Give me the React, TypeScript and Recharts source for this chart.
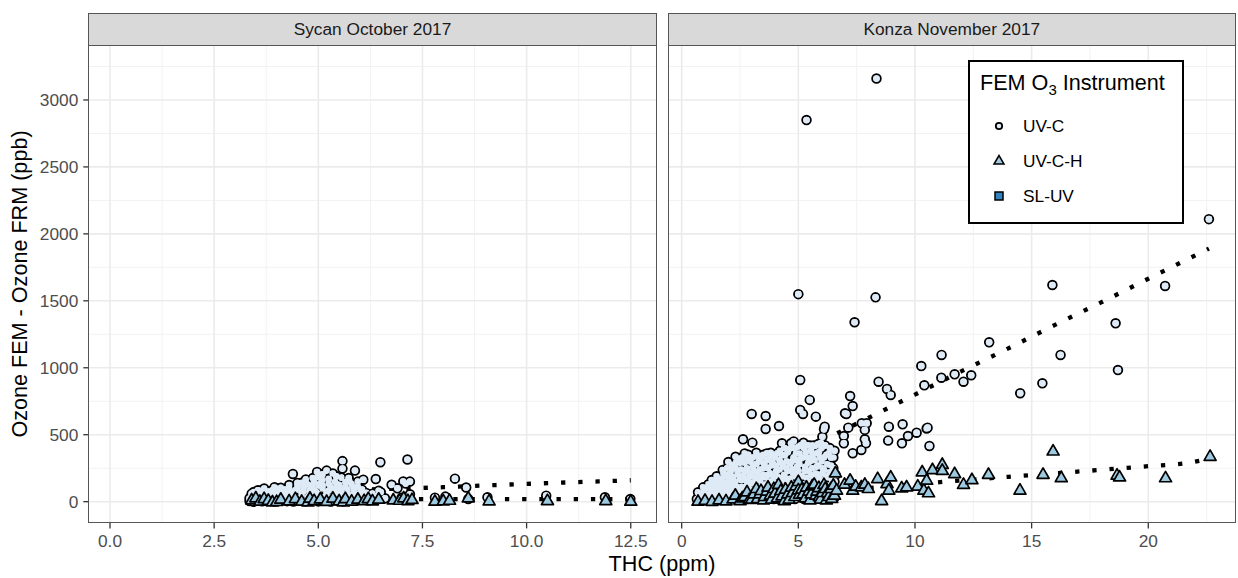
import { ComposedChart, Scatter, Line, XAxis, YAxis, CartesianGrid, Legend } from "recharts";

// shared y scale
const yTicks = [0, 500, 1000, 1500, 2000, 2500, 3000];
const yMinor = [250, 750, 1250, 1750, 2250, 2750, 3250];
const yDomain: [number, number] = [-157, 3403];

// Sycan panel
const sycanTicks = [0, 2.5, 5, 7.5, 10, 12.5];
const sycanMinor = [1.25, 3.75, 6.25, 8.75, 11.25];
const sycanDomain: [number, number] = [-0.504, 13.106];

// Konza panel
const konzaTicks = [0, 5, 10, 15, 20];
const konzaMinor = [2.5, 7.5, 12.5, 17.5, 22.5];
const konzaDomain: [number, number] = [-0.574, 23.73];

type Pt = [number, number];

const sycanUvc: Pt[] = [
  [3.35, 5], [3.5, 12], [3.65, 3], [3.8, 9], [3.95, 2], [4.1, 10], [4.25, 4], [4.4, 1], [4.55, 8], [4.7, 3], [4.85, 11], [5.0, 2], [5.15, 7], [5.3, 1], [5.45, 9], [5.6, 3], [5.75, 6], [5.9, 12], [6.05, 15], [6.2, 22], [6.35, 30],
  [3.4, 40], [3.55, 34], [3.7, 46], [3.85, 30], [4.0, 42], [4.15, 37], [4.3, 49], [4.45, 31], [4.6, 44], [4.75, 36], [4.9, 51], [5.05, 33], [5.2, 46], [5.35, 40], [5.5, 53], [5.65, 38], [5.8, 45], [5.95, 30], [6.1, 42], [6.3, 60], [6.45, 82],
  [3.45, 72], [3.6, 81], [3.75, 67], [3.9, 86], [4.05, 74], [4.2, 92], [4.35, 70], [4.5, 96], [4.65, 78], [4.8, 89], [4.95, 71], [5.1, 99], [5.25, 83], [5.4, 93], [5.55, 76], [5.7, 91], [5.85, 80], [6.0, 66],
  [3.7, 98], [3.95, 108], [4.1, 104], [4.3, 124], [4.5, 116], [4.6, 141], [4.75, 128], [4.9, 152], [5.0, 120], [5.1, 161], [5.25, 134], [5.4, 149], [5.5, 126], [5.65, 146], [5.8, 131], [5.95, 150], [6.08, 164],
  [3.35, 25], [3.4, 60], [3.45, 0], [3.5, 50], [3.55, 85], [3.6, 20], [3.65, 60], [3.7, 10], [3.75, 35], [3.8, 75], [3.85, 55], [3.9, 20], [3.95, 65], [4.0, 95], [4.05, 15], [4.1, 55], [4.15, 85], [4.2, 25], [4.25, 65], [4.3, 100],
  [4.35, 15], [4.4, 55], [4.45, 85], [4.5, 140], [4.55, 25], [4.6, 70], [4.65, 105], [4.7, 130], [4.75, 15], [4.8, 60], [4.85, 120], [4.9, 85], [4.95, 25], [5.0, 55], [5.05, 140], [5.1, 120], [5.15, 35], [5.2, 70], [5.25, 170],
  [5.3, 110], [5.35, 20], [5.4, 65], [5.45, 130], [5.5, 95], [5.55, 180], [5.6, 30], [5.65, 110], [5.7, 60], [5.75, 150], [5.8, 20], [5.85, 105], [5.9, 60], [5.95, 110], [6.0, 35], [6.05, 90], [6.1, 20], [6.15, 65], [6.25, 45], [6.4, 40], [6.5, 70],
  [4.39, 207], [4.7, 166], [4.87, 177], [4.97, 222], [5.0, 186], [5.1, 205], [5.2, 232], [5.35, 210], [5.43, 189], [5.58, 303], [5.58, 247], [5.73, 177], [5.88, 232],
  [6.38, 169], [6.49, 295], [6.76, 126], [6.9, 100], [7.04, 151], [7.1, 135], [7.14, 315], [7.2, 150],
  [6.6, 25], [7.0, 30], [7.2, 55], [7.8, 30], [8.05, 38], [8.28, 172], [8.55, 106], [8.6, 20], [9.06, 33], [10.47, 45], [11.88, 33], [12.49, 20],
];

const sycanUvch: Pt[] = [
  [3.4, 15], [3.5, 30], [3.6, 5], [3.7, 25], [3.8, 12], [3.9, 0], [4.0, 3], [4.1, 20], [4.3, 8], [4.45, 25], [4.6, 5], [4.75, 0], [4.8, 28], [4.9, 10], [5.05, 22], [5.2, 4], [5.35, 28], [5.5, 8], [5.6, 0], [5.65, 25],
  [5.8, 6], [5.95, 20], [6.1, 10], [6.2, 25], [6.3, 8], [6.45, 20],
  [6.8, 15], [6.95, 12], [7.05, 30], [7.15, 10], [7.25, 18], [7.8, 5], [8.0, 8], [8.15, 12], [8.6, 30], [9.1, 8], [10.5, 10], [11.9, 10], [12.5, 5],
];

const konzaUvc: Pt[] = [
  [0.65, 20], [0.75, 45], [0.85, 8], [0.92, 107], [1.0, 60], [1.1, 18], [1.15, 130], [1.25, 85], [1.29, 162], [1.35, 40], [1.45, 115], [1.5, 190], [1.55, 12], [1.65, 70], [1.7, 150], [1.76, 237], [1.85, 105], [1.9, 30], [1.95, 200], [2.0, 296],
  [2.05, 160], [2.1, 60], [2.2, 250], [2.25, 120], [2.31, 335], [2.35, 20], [2.4, 205], [2.45, 90], [2.5, 290], [2.55, 160], [2.63, 466], [2.65, 45], [2.7, 360], [2.72, 230], [2.8, 120], [2.85, 320], [2.9, 185], [2.95, 70],
  [3.0, 655], [3.03, 441], [3.05, 260], [3.1, 140], [3.15, 30], [3.2, 365], [3.25, 210], [3.3, 300], [3.35, 95], [3.4, 175], [3.45, 340], [3.5, 250], [3.55, 50], [3.6, 640], [3.6, 543], [3.62, 130], [3.65, 310], [3.7, 200], [3.75, 80],
  [3.82, 365], [3.85, 270], [3.9, 160], [3.95, 20], [4.0, 330], [4.05, 230], [4.1, 110], [4.17, 565], [4.21, 380], [4.25, 290], [4.3, 436], [4.32, 180], [4.38, 60], [4.42, 345], [4.48, 250], [4.55, 140], [4.6, 395], [4.65, 30],
  [4.69, 436], [4.72, 300], [4.78, 210], [4.8, 450], [4.85, 100], [4.9, 360], [4.95, 265], [5.0, 1550], [5.0, 410], [5.03, 170], [5.08, 909], [5.08, 685], [5.1, 320], [5.15, 50], [5.2, 655], [5.22, 440], [5.27, 230], [5.32, 370],
  [5.38, 130], [5.42, 290], [5.49, 760], [5.5, 420], [5.55, 200], [5.6, 340], [5.65, 80], [5.72, 416], [5.75, 635], [5.78, 260], [5.82, 160], [5.88, 370], [5.93, 30], [5.97, 440], [6.0, 300], [6.03, 485], [6.03, 210],
  [6.1, 540], [6.1, 237], [6.13, 560], [6.15, 110], [6.2, 350], [6.28, 180], [6.35, 400], [6.4, 270], [6.45, 60], [6.5, 330], [6.55, 150],
  [0.7, 70], [0.8, 30], [0.95, 80], [1.05, 35], [1.05, 100], [1.2, 50], [1.2, 110], [1.3, 20], [1.35, 140], [1.4, 75], [1.45, 30], [1.5, 160], [1.55, 95], [1.6, 45], [1.6, 130],
  [1.7, 20], [1.7, 100], [1.75, 175], [1.8, 60], [1.8, 210], [1.85, 140], [1.9, 80], [1.95, 250], [2.0, 110], [2.0, 180], [2.0, 40],
  [2.1, 225], [2.1, 140], [2.15, 85], [2.15, 275], [2.2, 30], [2.2, 185], [2.3, 60], [2.3, 150], [2.3, 260], [2.35, 300], [2.4, 110], [2.4, 230], [2.45, 35], [2.45, 320], [2.5, 180], [2.5, 70],
  [2.55, 240], [2.6, 110], [2.6, 330], [2.65, 195], [2.7, 80], [2.7, 290], [2.75, 20], [2.75, 160], [2.8, 250], [2.85, 100], [2.85, 350], [2.9, 40], [2.9, 220], [2.95, 300], [2.95, 140], [3.0, 190], [3.0, 90],
  [3.05, 330], [3.1, 60], [3.1, 230], [3.15, 180], [3.2, 110], [3.2, 280], [3.25, 40], [3.3, 160], [3.3, 340], [3.35, 240], [3.4, 70], [3.4, 300], [3.45, 130], [3.5, 200], [3.5, 350], [3.5, 20],
  [3.55, 280], [3.6, 100], [3.6, 180], [3.65, 40], [3.65, 360], [3.7, 250], [3.75, 150], [3.75, 320], [3.8, 60], [3.8, 210], [3.85, 110], [3.9, 290], [3.9, 350], [3.95, 190], [4.0, 80], [4.0, 140],
  [4.05, 270], [4.05, 40], [4.1, 360], [4.1, 190], [4.15, 90], [4.2, 240], [4.2, 310], [4.25, 150], [4.3, 20], [4.3, 350], [4.35, 270], [4.35, 110], [4.4, 200], [4.4, 400], [4.45, 60], [4.5, 300], [4.5, 170],
  [4.55, 370], [4.55, 230], [4.6, 90], [4.65, 280], [4.65, 170], [4.7, 400], [4.7, 50], [4.75, 240], [4.8, 130], [4.8, 330], [4.85, 20], [4.85, 400], [4.9, 190], [4.95, 70], [4.95, 310], [5.0, 230], [5.0, 120],
  [5.05, 360], [5.05, 280], [5.1, 80], [5.1, 420], [5.15, 190], [5.2, 130], [5.2, 330], [5.25, 20], [5.25, 400], [5.3, 260], [5.3, 90], [5.35, 180], [5.4, 330], [5.4, 420], [5.45, 40], [5.45, 230], [5.5, 150], [5.5, 300],
  [5.55, 380], [5.6, 110], [5.6, 250], [5.65, 170], [5.65, 420], [5.7, 310], [5.7, 40], [5.75, 210], [5.8, 90], [5.8, 360], [5.85, 270], [5.85, 430], [5.9, 130], [5.9, 200], [5.95, 330], [5.95, 60], [6.0, 400], [6.0, 160],
  [6.05, 250], [6.05, 20], [6.1, 330], [6.15, 420], [6.2, 60], [6.2, 190], [6.25, 280], [6.3, 120], [6.3, 360], [6.35, 220], [6.4, 40], [6.4, 330], [6.45, 160], [6.5, 250], [6.5, 90], [6.55, 380], [6.55, 30], [6.6, 200],
  [5.35, 2850], [6.95, 490], [6.95, 436], [7.0, 660], [7.06, 655], [7.14, 553], [7.22, 789], [7.33, 714], [7.33, 362], [7.41, 1340], [7.7, 386], [7.72, 586], [7.85, 536], [7.85, 466], [7.9, 436], [7.93, 586],
  [8.31, 1526], [8.44, 896], [8.8, 842], [8.85, 456], [8.88, 560], [8.96, 797], [9.44, 436], [9.47, 578], [9.7, 490], [10.07, 515], [10.27, 1013], [10.4, 869], [10.5, 547], [10.54, 553], [10.62, 416], [8.35, 3160],
  [11.13, 926], [11.14, 1096], [11.7, 951], [12.08, 896], [12.41, 944], [13.18, 1190], [14.51, 810], [15.46, 884], [15.89, 1618], [16.24, 1096], [18.6, 1332], [18.7, 983], [20.72, 1611], [22.6, 2110],
];

const konzaUvch: Pt[] = [
  [0.7, 5], [1.0, 12], [1.3, 4], [1.6, 15], [1.9, 8], [2.2, 22], [2.3, 50], [2.5, 10], [2.6, 30], [2.7, 40], [2.8, 75], [2.9, 18], [3.0, 20], [3.1, 60], [3.2, 100], [3.25, 25], [3.35, 60], [3.4, 85], [3.5, 15], [3.55, 40],
  [3.65, 80], [3.7, 110], [3.8, 50], [3.85, 20], [3.95, 100], [4.0, 65], [4.1, 30], [4.15, 130], [4.25, 85], [4.3, 45], [4.4, 10], [4.45, 95], [4.55, 60], [4.6, 20], [4.7, 110], [4.75, 70], [4.85, 40], [4.9, 120],
  [5.0, 152], [5.0, 90], [5.05, 57], [5.15, 95], [5.2, 60], [5.3, 30], [5.35, 110], [5.45, 80], [5.5, 15], [5.55, 60], [5.6, 120], [5.68, 132], [5.75, 50], [5.8, 80], [5.88, 107], [5.9, 40], [5.95, 20], [6.03, 70],
  [6.1, 130], [6.15, 100], [6.2, 15], [6.25, 70], [6.3, 40], [6.4, 100], [6.43, 26], [6.5, 125], [6.55, 50], [6.59, 217], [6.64, 88],
  [6.98, 132], [7.22, 162], [7.33, 88], [7.46, 117], [7.7, 112], [7.85, 132], [8.0, 100], [8.4, 174], [8.57, 10], [8.8, 137], [8.88, 88], [8.96, 186], [9.43, 105], [9.64, 112], [10.12, 118], [10.31, 224], [10.38, 88],
  [10.5, 162], [10.58, 68], [10.75, 241], [11.17, 280], [11.17, 236], [11.7, 211], [12.08, 131], [12.44, 166], [13.15, 206], [14.5, 88], [15.49, 206], [15.92, 380], [16.27, 181], [18.66, 200], [18.77, 186], [20.74, 180], [22.65, 340],
];

// smoothed fits (dotted)
const sycanUvcFit: Pt[] = [[3.4, 62], [4, 70], [5, 80], [6, 90], [7, 98], [8, 108], [9, 121], [10, 133], [11, 144], [12, 154], [12.5, 160]];
const sycanUvchFit: Pt[] = [[3.7, 8], [4.5, 14], [6, 18], [8, 19], [10, 19], [12.5, 18]];
const konzaUvcFit: Pt[] = [[0.7, 5], [2, 115], [4, 285], [6, 455], [8, 625], [10, 800], [12, 975], [14, 1145], [16, 1320], [18, 1490], [20, 1665], [22.6, 1890]];
const konzaUvchFit: Pt[] = [[0.7, 0], [1.5, 20], [2.5, 28], [3.5, 40], [4.5, 58], [6, 78], [8, 102], [10, 125], [11.2, 148], [12, 158], [14, 186], [16, 212], [18, 238], [20, 265], [21.5, 285], [22.6, 320]];

const legendItems = [
  { name: "UV-C", shape: "circle", fill: "#DEEBF7" },
  { name: "UV-C-H", shape: "triangle", fill: "#9ECAE1" },
  { name: "SL-UV", shape: "square", fill: "#3182BD" },
];

const FONT = "'Liberation Sans', Arial, Helvetica, sans-serif";
const toPts = (a: Pt[]) => a.map(([x, y]) => ({ x, y }));

const CircleMark = (p: any) => (
  <circle cx={p.cx} cy={p.cy} r={4.3} fill="#DEEBF7" stroke="#000" strokeWidth={1.9} />
);
// fill pass: overlapping circles merge into one pale cloud, like the dense original
const CircleFill = (p: any) => <circle cx={p.cx} cy={p.cy} r={3.3} fill="#DEEBF7" />;
const TriMark = (p: any) => (
  <polygon
    points={`${p.cx},${p.cy - 6.2} ${p.cx - 6},${p.cy + 4.2} ${p.cx + 6},${p.cy + 4.2}`}
    fill="#9ECAE1"
    stroke="#000"
    strokeWidth={1.7}
    strokeLinejoin="round"
  />
);

function LegendSymbol({ shape, fill }: { shape: string; fill: string }) {
  return (
    <svg width={16} height={16} style={{ position: "absolute", left: 21, top: -8 }}>
      {shape === "circle" && <circle cx={8} cy={8} r={3.2} fill={fill} stroke="#000" strokeWidth={1.8} />}
      {shape === "triangle" && <polygon points="8,2.5 3,11 13,11" fill={fill} stroke="#000" strokeWidth={1.5} />}
      {shape === "square" && <rect x={4} y={4} width={8} height={8} fill={fill} stroke="#000" strokeWidth={1.5} />}
    </svg>
  );
}

function LegendBox() {
  return (
    <div style={{ position: "relative", width: 216, height: 164, border: "2px solid #000", boxSizing: "border-box", background: "#fff", fontFamily: FONT, color: "#000" }}>
      <div style={{ position: "absolute", left: 10, top: 8, fontSize: 21.6, whiteSpace: "nowrap" }}>
        FEM O<span style={{ fontSize: 15, position: "relative", top: 5 }}>3</span> Instrument
      </div>
      {legendItems.map((it, i) => (
        <div key={it.name} style={{ position: "absolute", left: 0, top: 64 + i * 35, width: "100%" }}>
          <LegendSymbol shape={it.shape} fill={it.fill} />
          <div style={{ position: "absolute", left: 53, top: -10, fontSize: 17.3, whiteSpace: "nowrap" }}>{it.name}</div>
        </div>
      ))}
    </div>
  );
}

const tickStyle = { fill: "#4D4D4D", fontSize: 17.3, fontFamily: FONT };
const dotted = { stroke: "#000", strokeWidth: 4.3, strokeDasharray: "4.3 12.9" };

function Panel(props: {
  width: number;
  margin: any;
  domain: [number, number];
  ticks: number[];
  minor: number[];
  fmt: (v: number) => string;
  uvc: Pt[];
  uvch: Pt[];
  uvcFit: Pt[];
  uvchFit: Pt[];
  showY: boolean;
  legend?: boolean;
}) {
  const uvcPts = toPts(props.uvc);
  return (
    <ComposedChart width={props.width} height={578} margin={props.margin}>
      <CartesianGrid horizontalValues={yMinor} verticalValues={props.minor} stroke="#F2F2F2" strokeWidth={1} />
      <CartesianGrid horizontalValues={yTicks} verticalValues={props.ticks} stroke="#EBEBEB" strokeWidth={1.6} />
      <XAxis
        type="number"
        dataKey="x"
        domain={props.domain}
        allowDataOverflow
        ticks={props.ticks}
        tickFormatter={props.fmt}
        interval={0}
        height={30}
        tick={tickStyle}
        tickSize={5.7}
        tickMargin={6}
        axisLine={false}
        tickLine={{ stroke: "#333", strokeWidth: 1.3 }}
      />
      <YAxis
        type="number"
        dataKey="y"
        domain={yDomain}
        allowDataOverflow
        ticks={yTicks}
        interval={0}
        width={55}
        hide={!props.showY}
        tick={tickStyle}
        tickSize={5.7}
        tickMargin={5}
        axisLine={false}
        tickLine={{ stroke: "#333", strokeWidth: 1.3 }}
      />
      <Scatter name="UV-C" data={uvcPts} dataKey="y" shape={CircleMark} isAnimationActive={false} />
      <Scatter name="UV-C fill" data={uvcPts} dataKey="y" shape={CircleFill} legendType="none" isAnimationActive={false} />
      <Scatter name="UV-C-H" data={toPts(props.uvch)} dataKey="y" shape={TriMark} isAnimationActive={false} />
      <Line data={toPts(props.uvcFit)} dataKey="y" type="monotone" dot={false} activeDot={false} {...dotted} isAnimationActive={false} />
      <Line data={toPts(props.uvchFit)} dataKey="y" type="monotone" dot={false} activeDot={false} {...dotted} isAnimationActive={false} />
      {props.legend && (
        <Legend
          layout="vertical"
          align="center"
          verticalAlign="middle"
          content={() => <LegendBox />}
          wrapperStyle={{ left: 308, top: 60, width: 216, height: 164 }}
        />
      )}
    </ComposedChart>
  );
}

function Strip({ left, width, label }: { left: number; width: number; label: string }) {
  return (
    <div
      style={{
        position: "absolute", left, top: 12.7, width, height: 33.3, boxSizing: "border-box",
        background: "#D9D9D9", border: "1.3px solid #555", display: "flex", alignItems: "center",
        justifyContent: "center", fontSize: 17.3, color: "#1A1A1A", fontFamily: FONT,
      }}
    >
      {label}
    </div>
  );
}

function Border({ left, width }: { left: number; width: number }) {
  return (
    <div
      style={{
        position: "absolute", left, top: 45.4, width, height: 477.9, boxSizing: "border-box",
        border: "1.3px solid #555", pointerEvents: "none",
      }}
    />
  );
}

export default function App() {
  return (
    <div style={{ position: "absolute", left: 0, top: 0, width: 1238, height: 578, background: "#fff", fontFamily: FONT, overflow: "hidden" }}>
      <div style={{ position: "absolute", left: 0, top: 0 }}>
        <Panel
          width={660}
          margin={{ top: 46, right: 4, bottom: 25.3, left: 34 }}
          domain={sycanDomain}
          ticks={sycanTicks}
          minor={sycanMinor}
          fmt={(v) => v.toFixed(1)}
          uvc={sycanUvc}
          uvch={sycanUvch}
          uvcFit={sycanUvcFit}
          uvchFit={sycanUvchFit}
          showY
        />
      </div>
      <div style={{ position: "absolute", left: 660, top: 0 }}>
        <Panel
          width={578}
          margin={{ top: 46, right: 2.7, bottom: 25.3, left: 8.3 }}
          domain={konzaDomain}
          ticks={konzaTicks}
          minor={konzaMinor}
          fmt={(v) => String(v)}
          uvc={konzaUvc}
          uvch={konzaUvch}
          uvcFit={konzaUvcFit}
          uvchFit={konzaUvchFit}
          showY={false}
          legend
        />
      </div>
      <Strip left={88.4} width={568.2} label="Sycan October 2017" />
      <Strip left={667.7} width={568.2} label="Konza November 2017" />
      <Border left={88.4} width={568.2} />
      <Border left={667.7} width={568.2} />
      <div style={{ position: "absolute", left: 462, top: 552, width: 400, textAlign: "center", fontSize: 21.6, color: "#000", lineHeight: "24px" }}>
        THC (ppm)
      </div>
      <div
        style={{
          position: "absolute", left: 20 - 250, top: 284 - 12, width: 500, height: 24, textAlign: "center",
          fontSize: 21.6, color: "#000", lineHeight: "24px", transform: "rotate(-90deg)", whiteSpace: "nowrap",
        }}
      >
        Ozone FEM - Ozone FRM (ppb)
      </div>
    </div>
  );
}
